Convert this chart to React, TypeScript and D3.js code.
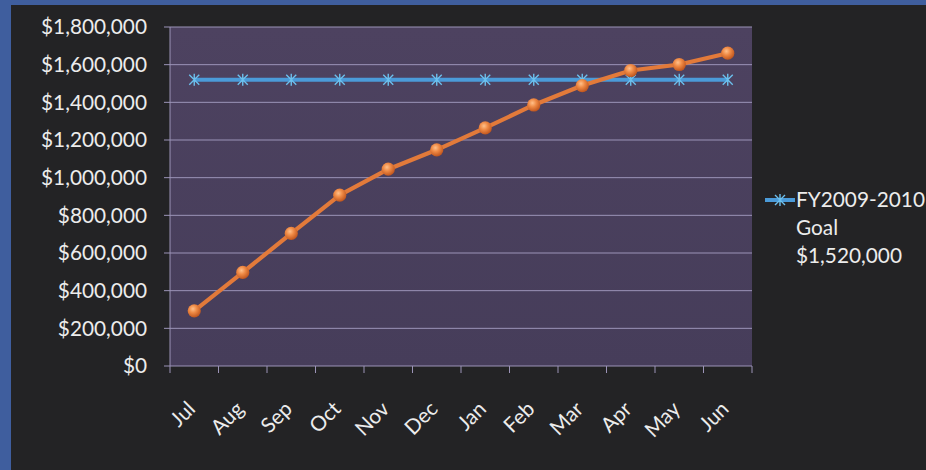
import React from "react";
import * as d3 from "d3";

const months = ["Jul", "Aug", "Sep", "Oct", "Nov", "Dec", "Jan", "Feb", "Mar", "Apr", "May", "Jun"];
const actual = [293000, 497000, 704000, 907000, 1045000, 1148000, 1264000, 1386000, 1489000, 1569000, 1601000, 1661000];
const goal = [1520000, 1520000, 1520000, 1520000, 1520000, 1520000, 1520000, 1520000, 1520000, 1520000, 1520000, 1520000];
const yTicks = [0, 200000, 400000, 600000, 800000, 1000000, 1200000, 1400000, 1600000, 1800000];
const legendLines = ["FY2009-2010", "Goal", "$1,520,000"];

const W = 926;
const H = 470;
const M = { left: 170, right: 752, top: 27, bottom: 366 };
const FONT = "Lato, 'Open Sans', sans-serif";
const FS = 20.8;

function Star({ x, y, s, color }: { x: number; y: number; s: number; color: string }) {
  const d = `M${x - s},${y - s}L${x + s},${y + s}M${x - s},${y + s}L${x + s},${y - s}M${x},${y - s * 1.2}L${x},${y + s * 1.2}`;
  return <path d={d} stroke={color} strokeWidth={1.4} fill="none" />;
}

export default function App() {
  const x = d3.scaleBand<string>().domain(months).range([M.left, M.right]).paddingInner(0).paddingOuter(0);
  const y = d3.scaleLinear().domain([0, 1800000]).range([M.bottom, M.top]);
  const cx = (m: string) => (x(m) as number) + x.bandwidth() / 2;
  const fmt = (v: number) => "$" + d3.format(",")(v);

  const line = d3
    .line<number>()
    .x((_, i) => cx(months[i]))
    .y((v) => y(v));

  const tickXs = months.map((m) => x(m) as number).concat([M.right]);

  return (
    <div style={{ position: "fixed", left: 0, top: 0, width: W, height: H, overflow: "hidden" }}>
      <svg width={W} height={H} style={{ display: "block" }}>
        <defs>
          <linearGradient id="plotBg" x1="0" y1="0" x2="0" y2="1">
            <stop offset="0" stopColor="#4d4260" />
            <stop offset="1" stopColor="#463d5a" />
          </linearGradient>
          <radialGradient id="ball" cx="0.4" cy="0.35" r="0.65">
            <stop offset="0" stopColor="#ffc08a" />
            <stop offset="0.45" stopColor="#ef8a45" />
            <stop offset="1" stopColor="#c0561e" />
          </radialGradient>
        </defs>
        <rect x={0} y={0} width={W} height={H} fill="#3f5e9e" />
        <rect x={11} y={5} width={W - 11} height={H - 5} fill="#232325" />
        <rect x={M.left} y={M.top} width={M.right - M.left} height={M.bottom - M.top} fill="url(#plotBg)" />
        {yTicks.map((t) => (
          <g key={t}>
            {t > 0 && (
              <line x1={M.left - 6} x2={M.right} y1={y(t)} y2={y(t)} stroke="#9c94b8" strokeWidth={1} />
            )}
            <text
              x={147}
              y={y(t)}
              dy="0.36em"
              textAnchor="end"
              fill="#ececec"
              fontFamily={FONT}
              fontSize={FS}
            >
              {fmt(t)}
            </text>
          </g>
        ))}
        <line x1={M.left} x2={M.left} y1={M.top} y2={M.bottom} stroke="#9c94b8" strokeWidth={1} />
        <line x1={M.left - 6} x2={M.right} y1={M.bottom} y2={M.bottom} stroke="#9c94b8" strokeWidth={1} />
        {tickXs.map((tx, i) => (
          <line key={i} x1={tx} x2={tx} y1={M.bottom} y2={M.bottom + 7} stroke="#9c94b8" strokeWidth={1} />
        ))}
        {months.map((m) => (
          <text
            key={m}
            transform={`translate(${cx(m) - 8},${M.bottom + 34}) rotate(-45)`}
            textAnchor="end"
            dy="0.7em"
            fill="#ececec"
            fontFamily={FONT}
            fontSize={FS}
          >
            {m}
          </text>
        ))}
        <path d={line(goal) || ""} fill="none" stroke="#4b9bd9" strokeWidth={4} />
        {goal.map((v, i) => (
          <Star key={i} x={cx(months[i])} y={y(v)} s={5} color="#6cc0ee" />
        ))}
        <path d={line(actual) || ""} fill="none" stroke="#e27a3a" strokeWidth={4.2} strokeLinejoin="round" />
        {actual.map((v, i) => (
          <circle key={i} cx={cx(months[i])} cy={y(v)} r={6.6} fill="url(#ball)" />
        ))}
        <line x1={765} x2={795} y1={200} y2={200} stroke="#4b9bd9" strokeWidth={4} />
        <Star x={780} y={200} s={5} color="#6cc0ee" />
        {legendLines.map((t, i) => (
          <text key={t} x={796} y={207 + i * 28} fill="#ececec" fontFamily={FONT} fontSize={FS}>
            {t}
          </text>
        ))}
      </svg>
    </div>
  );
}
